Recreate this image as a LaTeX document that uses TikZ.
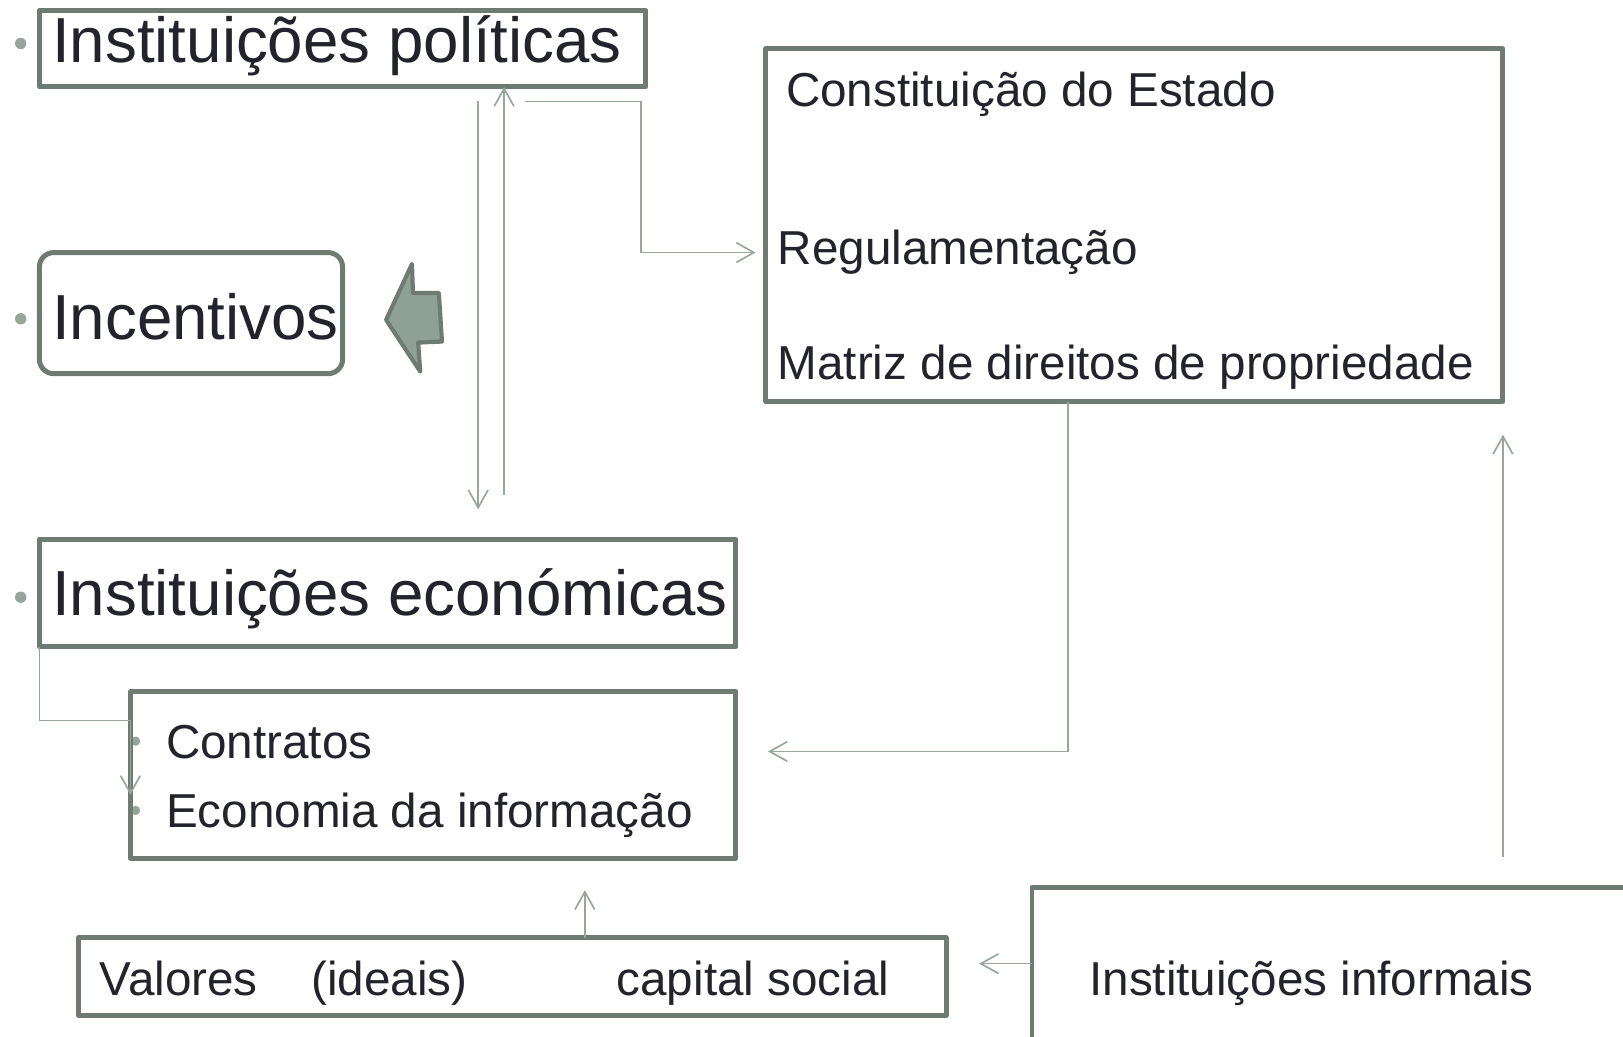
\documentclass[tikz,border=0pt]{standalone}
\usepackage{fontspec}
\setmainfont{Liberation Sans}
\usetikzlibrary{arrows.meta}
\definecolor{borda}{RGB}{110,123,114}
\definecolor{linha}{RGB}{150,166,155}
\definecolor{seta}{RGB}{143,160,149}
\definecolor{texto}{RGB}{35,35,43}

\begin{document}
\begin{tikzpicture}[x=0.5pt,y=-0.5pt]
    \tikzstyle{caixa}=[draw=borda,line width=2.4pt,line join=round,inner sep=0pt,outer sep=0pt,anchor=north west]
    \tikzstyle{grande}=[text=texto,inner sep=0pt,anchor=base west,font=\fontsize{30.75}{36}\selectfont]
    \tikzstyle{medio}=[text=texto,inner sep=0pt,anchor=base west,font=\fontsize{23}{28}\selectfont]
    \tikzstyle{liga}=[draw=linha,line width=0.8pt,-{Straight Barb[length=8.5pt,width=9.5pt]}]
    \tikzstyle{marca}=[fill=linha,circle,inner sep=0pt,minimum size=5.5pt]
    \useasboundingbox (0,0) rectangle (1568,1001);
    \clip (0,0) rectangle (1568,1001);
    % marcas
    \node[marca] (m1) at (20,42) {};
    \node[marca] (m2) at (20,308) {};
    \node[marca] (m3) at (20,577) {};
    \node[marca,minimum size=4.5pt] (m4) at (131,716) {};
    \node[marca,minimum size=4.5pt] (m5) at (131,783) {};
    % caixas
    \node[caixa,minimum width=293pt,minimum height=37pt] (pol) at (38,10) {};
    \node[caixa,rounded corners=7pt,minimum width=146.5pt,minimum height=58.5pt] (inc) at (38,244) {};
    \node[caixa,minimum width=336.5pt,minimum height=52pt] (eco) at (38,521) {};
    \node[caixa,minimum width=292.5pt,minimum height=80.5pt] (con) at (126,668) {};
    \node[caixa,minimum width=356pt,minimum height=170.5pt] (est) at (740,47) {};
    \node[caixa,minimum width=419pt,minimum height=37.5pt] (val) at (76,906) {};
    \node[caixa,minimum width=350pt,minimum height=125pt] (inf) at (997,857) {};
    % textos
    \node[grande] (tpol) at (50,60) {Instituições políticas};
    \node[grande] (tinc) at (50,328) {Incentivos};
    \node[grande] (teco) at (50,595) {Instituições económicas};
    \node[medio] (tcon) at (160,733) {Contratos};
    \node[medio] (teci) at (160,799) {Economia da informação};
    \node[medio] (test) at (759,103) {Constituição do Estado};
    \node[medio] (treg) at (751,256) {Regulamentação};
    \node[medio] (tmat) at (751,367) {Matriz de direitos de propriedade};
    \node[medio] (tval) at (96,962) {Valores\hspace*{26pt}(ideais)\hspace*{72pt}capital social};
    \node[medio] (tinf) at (1052,962) {Instituições informais};
    % seta grande
    \draw[borda,line width=2pt,fill=seta,line join=round] (373,309) -- (398,255) -- (399,283) -- (424,283) -- (427,330) -- (404,331) -- (406,359) -- cycle;
    % ligacoes
    \coordinate (a1) at (462,98);
    \coordinate (a2) at (462,492);
    \draw[liga] (a1) -- (a2);
    \coordinate (b1) at (487,478);
    \draw[liga] (b1) -- (b1 |- pol.south);
    \coordinate (c1) at (507,98);
    \coordinate (c2) at (730,244);
    \draw[liga] (c1) -- ++(112,0) |- (c2);
    \coordinate (d1) at (1032,726);
    \coordinate (d2) at (742,726);
    \draw[liga] (d1 |- est.south) -- (d1) -- (d2);
    \coordinate (e1) at (126,696);
    \coordinate (e2) at (126,768);
    \draw[liga] (eco.south west) |- (e1) -- (e2);
    \coordinate (f1) at (565,860);
    \draw[liga] (f1 |- val.north) -- (f1);
    \coordinate (g1) at (946,931);
    \draw[liga] (g1 -| inf.west) -- (g1);
    \coordinate (h1) at (1452,828);
    \coordinate (h2) at (1452,420);
    \draw[liga] (h1) -- (h2);
\end{tikzpicture}
\end{document}
